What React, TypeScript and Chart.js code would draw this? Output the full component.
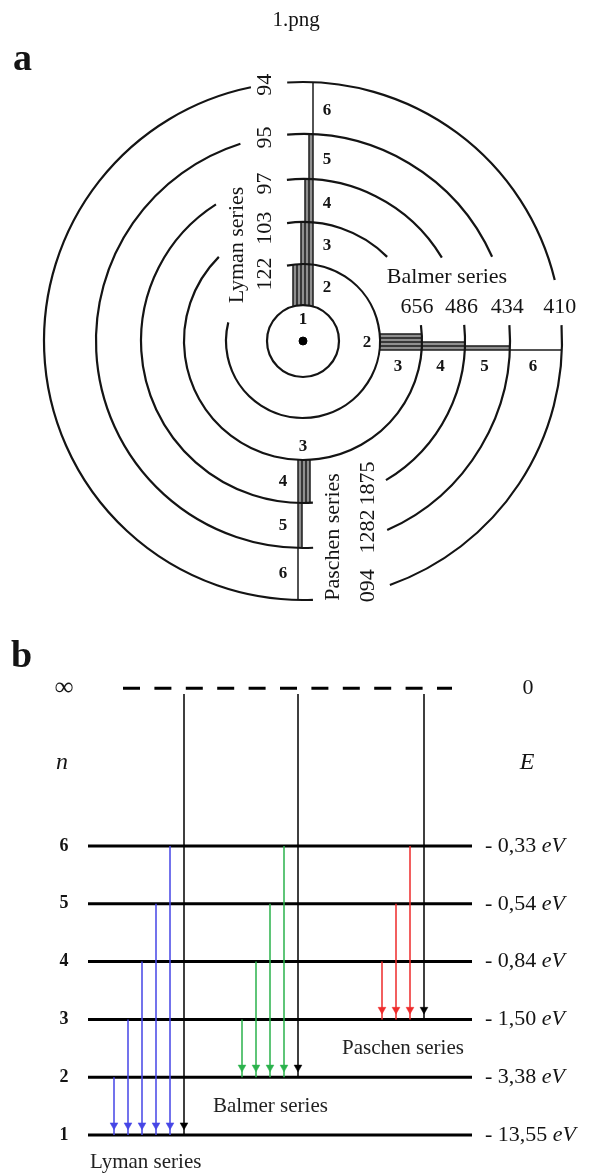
import React, { useEffect, useRef } from 'react';
import { Chart, registerables } from 'chart.js';

Chart.register(...registerables);

// ---------------- data ----------------
const titleText = '1.png';
const panelLabels = ['a', 'b'];
const levelNumbers = [1, 2, 3, 4, 5, 6];
const levelEnergies = ['- 13,55', '- 3,38', '- 1,50', '- 0,84', '- 0,54', '- 0,33'];
const energyUnit = 'eV';
const limitSymbol = '∞';
const limitEnergy = '0';
const axisSymbols = ['n', 'E'];
const seriesNames = ['Lyman series', 'Balmer series', 'Paschen series'];
const seriesLowerLevel = [1, 2, 3];
const lymanWavelengths = ['122', '103', '97', '95', '94'];
const balmerWavelengths = ['656', '486', '434', '410'];
const paschenWavelengths = ['1875', '1282', '094'];

// ---------------- layout / style ----------------
const W = 592;
const H = 1173;
const SERIF = "'Liberation Serif', 'Times New Roman', serif";
const INK = '#141414';

// panel a (units of the x / ya scales)
const CENTER = { x: 303, y: 341 };
const ORBIT_R = [36, 77, 119, 162, 207, 259];
// arc pieces per orbit, in degrees (counter-clockwise, y up)
const ORBIT_ARCS: number[][][] = [
  [[0, 360]],
  [[166, 462]],
  [[45, 97.7], [135, 367.7]],
  [[31, 95.7], [122.5, 273.5], [-59.2, 5.7]],
  [[24, 94.4], [107.6, 272.8], [-66, 4.4]],
  [[13.6, 93.5], [101.6, 272.2], [-70.4, 3.5]],
];
const BAND_STEP = 4;
const BANDS = [
  { dir: [0, -1], perp: [1, 0], base: 10, sign: -1 },
  { dir: [1, 0], perp: [0, 1], base: 9, sign: -1 },
  { dir: [0, 1], perp: [1, 0], base: -5, sign: 1 },
];

// panel b
const B_LEVEL1_Y = 1135;
const B_LEVEL_GAP = 57.8;
const YB_MAX = 1 + B_LEVEL1_Y / B_LEVEL_GAP;
const YB_MIN = YB_MAX - H / B_LEVEL_GAP;
const LIMIT_POS = 8.73;
const SYMBOL_POS = 7.44;
const LIMIT_START_GAP = 0.1;
const LEVEL_X = [88, 472];
const LIMIT_X = [123, 452];
const SERIES_X0 = [114, 242, 382];
const ARROW_GAP = 14;
const HEAD_LIFT = 0.17;
const SERIES_LABEL_X = [90, 213, 342];
const SERIES_LABEL_DROP = [0.47, 0.5, 0.5];
const SERIES_COLORS = ['#4646e6', '#2bb24c', '#ee2b2b'];
const LEFT_LABEL_X = 64;
const ENERGY_X = 485;
const RIGHT_SYMBOL_X = 528;

function arrowDataset(x: number, from: number, to: number, color: string) {
  return {
    type: 'scatter',
    showLine: true,
    xAxisID: 'x',
    yAxisID: 'yb',
    data: [
      { x, y: from },
      { x, y: to + HEAD_LIFT },
      { x, y: to },
    ],
    borderColor: color,
    borderWidth: 1.5,
    pointRadius: [0, 4.5, 0],
    pointHoverRadius: 0,
    pointStyle: 'triangle',
    pointRotation: 180,
    pointBackgroundColor: color,
    pointBorderColor: color,
    pointBorderWidth: 0.5,
  };
}

function buildDatasets() {
  const ds: any[] = [];
  seriesLowerLevel.forEach((L, s) => {
    const uppers = levelNumbers.filter((n) => n > L);
    uppers.forEach((n, i) => {
      ds.push(arrowDataset(SERIES_X0[s] + ARROW_GAP * i, n, L, SERIES_COLORS[s]));
    });
    ds.push(arrowDataset(SERIES_X0[s] + ARROW_GAP * uppers.length, LIMIT_POS - LIMIT_START_GAP, L, '#000'));
  });
  levelNumbers.forEach((n) => {
    ds.push({
      type: 'scatter',
      showLine: true,
      xAxisID: 'x',
      yAxisID: 'yb',
      data: [
        { x: LEVEL_X[0], y: n },
        { x: LEVEL_X[1], y: n },
      ],
      borderColor: '#000',
      borderWidth: 3,
      pointRadius: 0,
    });
  });
  ds.push({
    type: 'scatter',
    showLine: true,
    xAxisID: 'x',
    yAxisID: 'yb',
    data: [
      { x: LIMIT_X[0], y: LIMIT_POS },
      { x: LIMIT_X[1], y: LIMIT_POS },
    ],
    borderColor: '#000',
    borderWidth: 3,
    borderDash: [17, 14.4],
    pointRadius: 0,
  });
  // nucleus
  ds.push({
    type: 'scatter',
    xAxisID: 'x',
    yAxisID: 'ya',
    data: [{ x: CENTER.x, y: CENTER.y }],
    pointRadius: 4,
    pointBackgroundColor: '#000',
    pointBorderColor: '#000',
  });
  return ds;
}

function rotText(ctx: CanvasRenderingContext2D, text: string, x: number, y: number) {
  ctx.save();
  ctx.translate(x, y);
  ctx.rotate(-Math.PI / 2);
  ctx.fillText(text, 0, 0);
  ctx.restore();
}

const diagramPlugin = {
  id: 'diagram',
  afterDatasetsDraw(chart: any) {
    const ctx: CanvasRenderingContext2D = chart.ctx;
    const sx = chart.scales.x;
    const sya = chart.scales.ya;
    const syb = chart.scales.yb;
    const PA = (ux: number, uy: number) => [sx.getPixelForValue(ux), sya.getPixelForValue(uy)];
    const [cx, cy] = PA(CENTER.x, CENTER.y);
    const radPx = (r: number) => sx.getPixelForValue(CENTER.x + r) - cx;

    ctx.save();

    // ---- panel a: transition bands ----
    BANDS.forEach((b, s) => {
      const L = seriesLowerLevel[s];
      const off = (n: number) => b.base + b.sign * BAND_STEP * (6 - n);
      const pt = (o: number, r: number) => {
        const t = Math.sqrt(r * r - o * o);
        return PA(CENTER.x + b.dir[0] * t + b.perp[0] * o, CENTER.y + b.dir[1] * t + b.perp[1] * o);
      };
      for (let k = L; k <= 5; k++) {
        const ns = levelNumbers.filter((n) => n >= k + 1 || (k === L && n === L));
        if (ns.length < 2) continue;
        const offs = ns.map(off);
        const o0 = Math.min(...offs);
        const o1 = Math.max(...offs);
        const r0 = ORBIT_R[k - 1];
        const r1 = ORBIT_R[k];
        const p = [pt(o0, r0), pt(o1, r0), pt(o1, r1), pt(o0, r1)];
        ctx.beginPath();
        ctx.moveTo(p[0][0], p[0][1]);
        p.slice(1).forEach((q) => ctx.lineTo(q[0], q[1]));
        ctx.closePath();
        ctx.fillStyle = '#8f8f8f';
        ctx.fill();
      }
      ctx.strokeStyle = '#1a1a1a';
      ctx.lineWidth = 1.5;
      levelNumbers
        .filter((n) => n >= L)
        .forEach((n) => {
          const o = off(n);
          const rEnd = ORBIT_R[Math.max(n, L + 1) - 1];
          const a = pt(o, ORBIT_R[L - 1]);
          const e = pt(o, rEnd);
          ctx.beginPath();
          ctx.moveTo(a[0], a[1]);
          ctx.lineTo(e[0], e[1]);
          ctx.stroke();
        });
    });

    // ---- panel a: orbits ----
    ctx.strokeStyle = INK;
    ctx.lineWidth = 2.2;
    ORBIT_ARCS.forEach((pieces, i) => {
      const r = radPx(ORBIT_R[i]);
      pieces.forEach(([a0, a1]) => {
        ctx.beginPath();
        ctx.arc(cx, cy, r, (-a1 * Math.PI) / 180, (-a0 * Math.PI) / 180);
        ctx.stroke();
      });
    });

    // ---- texts ----
    ctx.fillStyle = INK;
    ctx.textAlign = 'center';
    ctx.textBaseline = 'middle';

    ctx.font = `21px ${SERIF}`;
    ctx.fillText(titleText, W / 2, 20);
    ctx.font = `bold 38px ${SERIF}`;
    ctx.textAlign = 'left';
    ctx.textBaseline = 'alphabetic';
    ctx.fillText(panelLabels[0], 13, 70);
    ctx.fillText(panelLabels[1], 11, 667);
    ctx.textAlign = 'center';
    ctx.textBaseline = 'middle';

    // panel a level numbers
    ctx.font = `bold 17px ${SERIF}`;
    let p = PA(CENTER.x, CENTER.y - 21);
    ctx.fillText('1', p[0], p[1]);
    p = PA(CENTER.x + ORBIT_R[1] - 13, CENTER.y + 2);
    ctx.fillText('2', p[0], p[1]);
    p = PA(CENTER.x, CENTER.y + ORBIT_R[2] - 13);
    ctx.fillText('3', p[0], p[1]);
    levelNumbers
      .filter((n) => n >= 2)
      .forEach((n) => {
        const mid = (ORBIT_R[n - 2] + ORBIT_R[n - 1]) / 2;
        const q = PA(CENTER.x + 24, CENTER.y - mid + 3);
        ctx.fillText(String(n), q[0], q[1]);
      });
    levelNumbers
      .filter((n) => n >= 3)
      .forEach((n) => {
        const mid = (ORBIT_R[n - 2] + ORBIT_R[n - 1]) / 2;
        const q = PA(CENTER.x + mid - 3, CENTER.y + 26);
        ctx.fillText(String(n), q[0], q[1]);
      });
    levelNumbers
      .filter((n) => n >= 4)
      .forEach((n) => {
        const mid = (ORBIT_R[n - 2] + ORBIT_R[n - 1]) / 2;
        const q = PA(CENTER.x - 20, CENTER.y + mid);
        ctx.fillText(String(n), q[0], q[1]);
      });

    // panel a wavelengths and series names
    ctx.font = `22px ${SERIF}`;
    lymanWavelengths.forEach((w, i) => {
      const r = ORBIT_R[i + 1];
      const q = PA(CENTER.x - 38, CENTER.y - Math.sqrt(r * r - 38 * 38));
      rotText(ctx, w, q[0], q[1]);
    });
    balmerWavelengths.forEach((w, i) => {
      const r = ORBIT_R[i + 2];
      const q = PA(CENTER.x + Math.sqrt(r * r - 34 * 34), CENTER.y - 34);
      ctx.fillText(w, q[0], q[1]);
    });
    paschenWavelengths.forEach((w, i) => {
      const r = ORBIT_R[i + 3];
      const q = PA(CENTER.x + 65, CENTER.y + Math.sqrt(r * r - 65 * 65) - 6);
      rotText(ctx, w, q[0], q[1]);
    });
    p = PA(CENTER.x - 66, CENTER.y - 96);
    rotText(ctx, seriesNames[0], p[0], p[1]);
    p = PA(CENTER.x + 144, CENTER.y - 64);
    ctx.fillText(seriesNames[1], p[0], p[1]);
    p = PA(CENTER.x + 30, CENTER.y + 196);
    rotText(ctx, seriesNames[2], p[0], p[1]);

    // ---- panel b texts ----
    const PB = (ux: number, lv: number) => [sx.getPixelForValue(ux), syb.getPixelForValue(lv)];
    ctx.font = `bold 26px ${SERIF}`;
    p = PB(LEFT_LABEL_X, LIMIT_POS);
    ctx.fillText(limitSymbol, p[0], p[1]);
    ctx.font = `22px ${SERIF}`;
    p = PB(RIGHT_SYMBOL_X, LIMIT_POS);
    ctx.fillText(limitEnergy, p[0], p[1]);
    ctx.font = `italic 24px ${SERIF}`;
    p = PB(LEFT_LABEL_X - 2, SYMBOL_POS);
    ctx.fillText(axisSymbols[0], p[0], p[1]);
    p = PB(RIGHT_SYMBOL_X - 1, SYMBOL_POS);
    ctx.fillText(axisSymbols[1], p[0], p[1]);

    ctx.font = `bold 18px ${SERIF}`;
    levelNumbers.forEach((n) => {
      const q = PB(LEFT_LABEL_X, n);
      ctx.fillText(String(n), q[0], q[1]);
    });

    ctx.textAlign = 'left';
    levelNumbers.forEach((n, i) => {
      const q = PB(ENERGY_X, n);
      ctx.font = `22px ${SERIF}`;
      const s = levelEnergies[i] + ' ';
      ctx.fillText(s, q[0], q[1]);
      const wdt = ctx.measureText(s).width;
      ctx.font = `italic 22px ${SERIF}`;
      ctx.fillText(energyUnit, q[0] + wdt, q[1]);
    });

    ctx.font = `21px ${SERIF}`;
    ctx.fillStyle = '#222';
    seriesNames.forEach((name, s) => {
      const q = PB(SERIES_LABEL_X[s], seriesLowerLevel[s] - SERIES_LABEL_DROP[s]);
      ctx.fillText(name, q[0], q[1]);
    });

    ctx.restore();
  },
};

export default function App() {
  const ref = useRef<HTMLCanvasElement | null>(null);
  useEffect(() => {
    const canvas = ref.current;
    if (!canvas) return;
    const chart = new Chart(canvas, {
      type: 'scatter',
      data: { datasets: buildDatasets() as any },
      options: {
        animation: false,
        responsive: false,
        devicePixelRatio: 1,
        events: [],
        layout: { padding: 0, autoPadding: false },
        plugins: {
          legend: { display: false },
          tooltip: { enabled: false },
          title: { display: false },
        },
        scales: {
          x: { type: 'linear', min: 0, max: W, display: false },
          ya: { type: 'linear', min: 0, max: H, reverse: true, display: false },
          yb: { type: 'linear', min: YB_MIN, max: YB_MAX, display: false },
        },
      } as any,
      plugins: [diagramPlugin as any],
    });
    return () => chart.destroy();
  }, []);
  return (
    <div style={{ position: 'absolute', left: 0, top: 0, width: W, height: H, background: '#fff' }}>
      <canvas ref={ref} width={W} height={H} style={{ display: 'block', width: W, height: H }} />
    </div>
  );
}
